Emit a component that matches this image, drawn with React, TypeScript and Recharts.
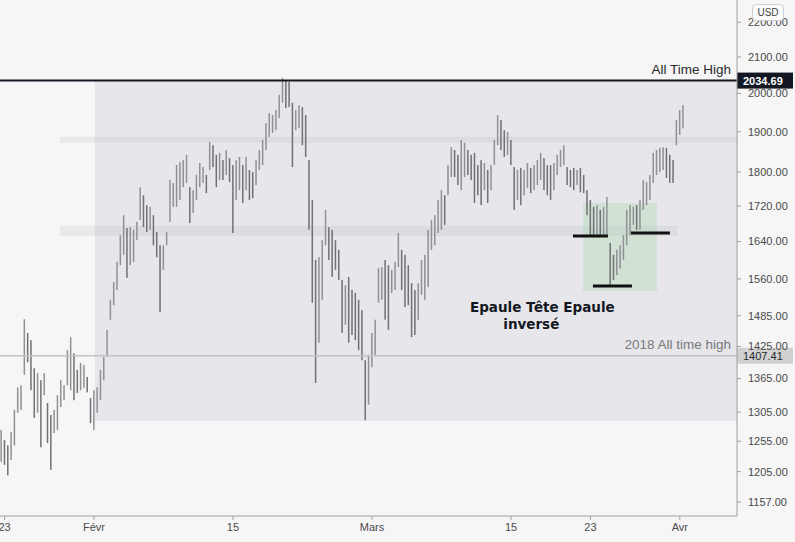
import React from 'react'
import {
  ComposedChart,
  Bar,
  XAxis,
  YAxis,
  ReferenceArea,
  ReferenceLine,
  ReferenceDot,
} from 'recharts'

// 8h bars, time in days counted from 23 Jan
const barStart = -0.33
const barStep = 1 / 3

const highs = [
  1274, 1257, 1248, 1271, 1309, 1349, 1353, 1478, 1451, 1437,
  1384, 1375, 1362, 1375, 1321, 1300, 1309, 1335, 1362, 1353,
  1418, 1443, 1412, 1381, 1394, 1390, 1368, 1330, 1344, 1349,
  1381, 1405, 1457, 1517, 1553, 1596, 1654, 1699, 1670, 1672,
  1666, 1684, 1764, 1745, 1722, 1718, 1699, 1661, 1632, 1632,
  1661, 1781, 1774, 1817, 1824, 1829, 1842, 1764, 1757, 1793,
  1822, 1812, 1793, 1874, 1866, 1842, 1847, 1829, 1854, 1834,
  1817, 1829, 1837, 1817, 1837, 1805, 1800, 1829, 1854, 1879,
  1922, 1948, 1943, 1956, 1996, 2042, 2036, 2031, 1975, 1956,
  1969, 1964, 1943, 1829, 1734, 1600, 1606, 1643, 1711, 1672,
  1666, 1643, 1622, 1558, 1547, 1564, 1537, 1531, 1517, 1496,
  1399, 1409, 1451, 1477, 1583, 1585, 1600, 1589, 1579, 1596,
  1659, 1622, 1611, 1589, 1551, 1537, 1551, 1600, 1611, 1666,
  1688, 1699, 1734, 1757, 1745, 1817, 1861, 1854, 1842, 1879,
  1872, 1854, 1842, 1847, 1817, 1829, 1822, 1805, 1817, 1879,
  1943, 1930, 1904, 1899, 1879, 1812, 1805, 1810, 1805, 1822,
  1810, 1817, 1829, 1847, 1834, 1817, 1817, 1822, 1842, 1854,
  1866, 1812, 1805, 1810, 1805, 1810, 1793, 1757, 1734, 1718,
  1722, 1711, 1718, 1741, 1637, 1611, 1622, 1632, 1654, 1711,
  1722, 1718, 1722, 1734, 1781, 1776, 1793, 1847, 1854, 1859,
  1861, 1859, 1842, 1829, 1930, 1956, 1969,
]

const lows = [
  1221, 1216, 1199, 1224, 1248, 1304, 1309, 1372, 1395, 1344,
  1295, 1304, 1245, 1335, 1252, 1208, 1269, 1274, 1314, 1326,
  1353, 1344, 1326, 1339, 1344, 1348, 1340, 1286, 1274, 1304,
  1326, 1362, 1405, 1477, 1506, 1537, 1589, 1611, 1562, 1589,
  1596, 1643, 1688, 1672, 1661, 1666, 1632, 1606, 1492, 1579,
  1632, 1684, 1718, 1718, 1734, 1764, 1774, 1681, 1704, 1734,
  1764, 1774, 1750, 1805, 1812, 1764, 1781, 1781, 1793, 1776,
  1659, 1734, 1757, 1727, 1757, 1734, 1738, 1769, 1805, 1817,
  1854, 1887, 1897, 1904, 1935, 1975, 1961, 1964, 1812, 1904,
  1909, 1866, 1837, 1666, 1511, 1357, 1432, 1517, 1632, 1600,
  1564, 1579, 1558, 1451, 1467, 1432, 1447, 1437, 1418, 1399,
  1291, 1318, 1386, 1409, 1511, 1517, 1477, 1457, 1531, 1537,
  1585, 1537, 1502, 1506, 1443, 1447, 1477, 1527, 1517, 1543,
  1622, 1632, 1659, 1666, 1677, 1745, 1788, 1788, 1769, 1757,
  1788, 1793, 1781, 1727, 1745, 1722, 1757, 1727, 1757, 1817,
  1866, 1854, 1837, 1842, 1817, 1711, 1734, 1722, 1745, 1762,
  1750, 1757, 1769, 1781, 1757, 1745, 1734, 1757, 1793, 1812,
  1817, 1769, 1764, 1757, 1769, 1752, 1750, 1699, 1650, 1650,
  1654, 1650, 1654, 1650, 1547, 1558, 1568, 1582, 1600, 1632,
  1654, 1677, 1666, 1666, 1711, 1722, 1734, 1774, 1793, 1800,
  1805, 1786, 1774, 1774, 1866, 1892, 1909,
]

const dateTicks = [0, 9, 23, 37, 51, 59, 68]
const dateLabels = ['23', 'Févr', '15', 'Mars', '15', '23', 'Avr']
const priceTicks = [1157, 1205, 1255, 1305, 1365, 1425, 1485, 1560, 1640, 1720, 1800, 1900, 2000, 2100, 2200]

const allTimeHigh = 2034.69
const ath2018 = 1407.41

// drawn zones: [t1, t2, low, high]
const rangeBox = [9.1, 73.8, 1290, 2034.69]
const bandUpper = [5.6, 73.8, 1872, 1887]
const bandLower = [5.6, 67.8, 1652, 1675]
const headShoulders = [58.25, 65.7, 1535, 1727]
// neckline / head marks: [t1, t2, price]
const marks = [
  [57.24, 60.76, 1652],
  [59.25, 63.18, 1545],
  [63.08, 67.0, 1659],
]

const FONT = '"Liberation Sans", Arial, sans-serif'

const rows = highs.map((h, i) => {
  const mid = (h + lows[i]) / 2
  const prevMid = i > 0 ? (highs[i - 1] + lows[i - 1]) / 2 : mid
  return { t: barStart + i * barStep, range: [lows[i], h], up: mid >= prevMid }
})

function OhlcStick(props: any) {
  const { x, y, width, height, payload } = props
  if (x == null || y == null) return null
  const cx = x + width / 2
  return <rect x={cx - 0.75} y={y} width={1.5} height={Math.max(height, 1)} fill={payload.up ? '#909095' : '#707075'} />
}

function LevelLabel(props: any) {
  const { viewBox, text, price, boxFill, priceFill, textFill, bold } = props
  if (!viewBox) return null
  const right = viewBox.x + viewBox.width
  const y = viewBox.y
  return (
    <g>
      <text x={right - 6} y={y - 7} textAnchor="end" fontSize={13.5} fill={textFill} fontFamily={FONT}>{text}</text>
      <rect x={right} y={y - 8} width={56} height={16} fill={boxFill} />
      <text x={right + 6} y={y + 0.5} dominantBaseline="central" fontSize={11} fontWeight={bold ? 700 : 400} fill={priceFill} fontFamily={FONT}>
        {price.toFixed(2)}
      </text>
    </g>
  )
}

function Note(props: any) {
  const { viewBox, text } = props
  if (!viewBox) return null
  return (
    <text x={viewBox.x} y={viewBox.y} dominantBaseline="central" fontSize={13.5} fontWeight={700} fill="#131722" fontFamily='"DejaVu Sans", sans-serif'>
      {text}
    </text>
  )
}

export default function App() {
  return (
    <div style={{ position: 'absolute', left: 0, top: 0, width: 795, height: 542, background: '#f6f6f6', overflow: 'hidden' }}>
      <ComposedChart width={795} height={542} data={rows} margin={{ top: 0, right: 0, bottom: 0, left: 0 }}>
        <XAxis
          dataKey="t"
          type="number"
          domain={[-0.463, 73.76]}
          allowDataOverflow
          ticks={dateTicks}
          interval={0}
          tickFormatter={(v: number) => dateLabels[dateTicks.indexOf(v)] ?? ''}
          height={26}
          tickSize={4}
          tickMargin={3}
          axisLine={{ stroke: '#a0a0a0' }}
          tickLine={{ stroke: '#a0a0a0' }}
          tick={{ fontSize: 11, fill: '#4a4a4a', fontFamily: FONT }}
        />
        <YAxis
          orientation="right"
          type="number"
          scale="log"
          domain={[1135.5, 2266.6]}
          allowDataOverflow
          ticks={priceTicks}
          interval={0}
          tickFormatter={(v: number) => v.toFixed(2)}
          width={58}
          tickSize={4}
          tickMargin={7}
          axisLine={{ stroke: '#a0a0a0' }}
          tickLine={{ stroke: '#a0a0a0' }}
          tick={{ fontSize: 11, fill: '#4a4a4a', fontFamily: FONT }}
        />
        <ReferenceArea x1={rangeBox[0]} x2={rangeBox[1]} y1={rangeBox[2]} y2={rangeBox[3]} fill="#c9cbd8" fillOpacity={0.36} stroke="none" ifOverflow="visible" />
        <ReferenceArea x1={bandUpper[0]} x2={bandUpper[1]} y1={bandUpper[2]} y2={bandUpper[3]} fill="#b8b9c4" fillOpacity={0.22} stroke="none" ifOverflow="visible" />
        <ReferenceArea x1={bandLower[0]} x2={bandLower[1]} y1={bandLower[2]} y2={bandLower[3]} fill="#b8b9c4" fillOpacity={0.22} stroke="none" ifOverflow="visible" />
        <ReferenceArea x1={headShoulders[0]} x2={headShoulders[1]} y1={headShoulders[2]} y2={headShoulders[3]} fill="#a8d8a8" fillOpacity={0.35} stroke="none" />
        <Bar dataKey="range" isAnimationActive={false} barSize={1} shape={<OhlcStick />} />
        <ReferenceLine
          y={ath2018}
          stroke="#c4c4c4"
          strokeWidth={1.5}
          label={<LevelLabel text="2018 All time high" price={ath2018} boxFill="#d1d1d1" priceFill="#2a2a2a" textFill="#7a7a7a" />}
        />
        <ReferenceLine
          y={allTimeHigh}
          stroke="#131722"
          strokeWidth={2}
          label={<LevelLabel text="All Time High" price={allTimeHigh} boxFill="#131722" priceFill="#ffffff" textFill="#2a2a2a" bold />}
        />
        {marks.map((m, i) => (
          <ReferenceLine key={i} segment={[{ x: m[0], y: m[2] }, { x: m[1], y: m[2] }]} stroke="#111" strokeWidth={3} />
        ))}
        <ReferenceDot x={46.97} y={1500} r={1} fillOpacity={0} strokeOpacity={0} label={<Note text="Epaule Tête Epaule" />} />
        <ReferenceDot x={50.32} y={1467} r={1} fillOpacity={0} strokeOpacity={0} label={<Note text="inversé" />} />
      </ComposedChart>
      <div
        style={{
          position: 'absolute',
          left: 752,
          top: 4,
          width: 30,
          height: 15,
          border: '1px solid #d0d0d0',
          borderRadius: 4,
          background: '#fafafa',
          fontFamily: FONT,
          fontSize: 10,
          color: '#444',
          textAlign: 'center',
          lineHeight: '15px',
        }}
      >
        USD
      </div>
    </div>
  )
}
